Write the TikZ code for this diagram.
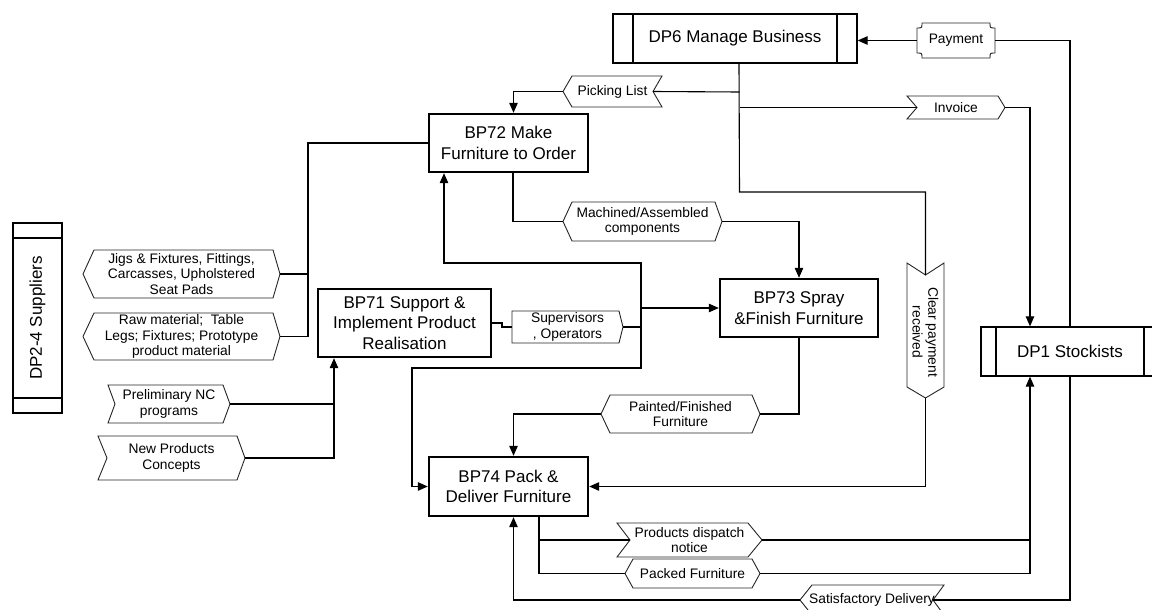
\documentclass[tikz,border=0pt]{standalone}
\usepackage{fontspec}
\setmainfont{Liberation Sans}
\usetikzlibrary{arrows.meta,calc}

\tikzset{
  conn/.style={line width=1.1pt, draw=black},
  arr/.style={-{Triangle[length=10pt,width=8.5pt]}},
  bpbox/.style={draw, fill=white, line width=2.4pt, inner sep=0pt, align=center,
    font=\fontsize{17}{20.5}\selectfont},
  dpbox/.style={draw, fill=white, line width=1.3pt, inner sep=0pt, align=center,
    font=\fontsize{17}{20.5}\selectfont},
  lbl/.style={line width=0.9pt, draw=black!85, fill=white},
  lbltext/.style={inner sep=0pt, align=center, font=\fontsize{13.8}{15.8}\selectfont},
}

% Flow label: name, left x, right x, top y, bottom y,
% left depth, right depth (positive = pointed out, negative = notched in), text
\newcommand\flowlabel[8]{%
  \pgfmathsetmacro\fLt{#2+max(#6,0)}%
  \pgfmathsetmacro\fLm{#2+max(-(#6),0)}%
  \pgfmathsetmacro\fRt{#3-max(#7,0)}%
  \pgfmathsetmacro\fRm{#3-max(-(#7),0)}%
  \pgfmathsetmacro\fYm{(#4+#5)/2}%
  \pgfmathsetmacro\fXm{(#2+#3)/2}%
  \draw[lbl] (\fLt,#4) -- (\fRt,#4) -- (\fRm,\fYm) -- (\fRt,#5) -- (\fLt,#5) -- (\fLm,\fYm) -- cycle;
  \node[lbltext] (#1) at (\fXm,\fYm) {#8};
  \coordinate (#1-w) at (\fLm,\fYm);
  \coordinate (#1-e) at (\fRm,\fYm);
}

\begin{document}
\begin{tikzpicture}[x=1pt,y=-1pt]
\useasboundingbox (0,0) rectangle (1152,610);
\fill[white] (0,0) rectangle (1152,610);
\clip (0,0) rectangle (1152,610);

% ---------- process boxes ----------
\node[dpbox, minimum width=244pt, minimum height=49pt] (dp6) at (735,38.5) {DP6 Manage Business};
\draw[line width=1.3pt] (633,14) -- (633,63) (837,14) -- (837,63);

\node[dpbox, minimum width=178pt, minimum height=49pt] (dp1) at (1070,351.5) {DP1 Stockists};
\draw[line width=1.3pt] (996,327) -- (996,376) (1144,327) -- (1144,376);

\node[dpbox, rotate=90, minimum width=190pt, minimum height=49pt] (dp24) at (37.5,318) {DP2-4 Suppliers};
\draw[line width=1.3pt] (13,238) -- (62,238) (13,398) -- (62,398);

\node[bpbox, minimum width=159pt, minimum height=58pt] (bp72) at (508.5,143) {BP72 Make\\Furniture to Order};
\node[bpbox, minimum width=173pt, minimum height=68pt] (bp71) at (404.5,323) {BP71 Support \&\\Implement Product\\Realisation};
\node[bpbox, minimum width=158pt, minimum height=58pt] (bp73) at (799,308) {BP73 Spray\\\&Finish Furniture};
\node[bpbox, minimum width=159pt, minimum height=59pt] (bp74) at (508.5,486.5) {BP74 Pack \&\\Deliver Furniture};

% ---------- flow labels ----------
\flowlabel{pick}{563}{662}{76}{107}{9}{-9}{Picking List}
\flowlabel{inv}{907}{1005}{96}{119}{-10}{7}{Invoice}
\flowlabel{mach}{563}{722}{202}{241}{9}{7}{Machined/Assembled\\components}
\flowlabel{paint}{601}{760}{395}{433}{9}{8}{Painted/Finished\\Furniture}
\flowlabel{jig}{83}{280}{250}{298}{11}{7}{Jigs \& Fixtures, Fittings,\\Carcasses, Upholstered\\Seat Pads}
\flowlabel{raw}{83}{280}{313}{360}{11}{7}{Raw material;\ \ Table\\Legs; Fixtures; Prototype\\product material}
\flowlabel{nc}{108}{230}{385}{423}{-7}{7}{Preliminary NC\\programs}
\flowlabel{np}{98}{245}{436}{480}{-9}{8}{New Products\\Concepts}
\flowlabel{sup}{512}{623}{311}{343}{0}{4}{Supervisors\\, Operators}
\flowlabel{disp}{617}{762}{523}{557}{-13}{14}{Products dispatch\\notice}
\flowlabel{pack}{625}{760}{559}{588}{8}{8}{Packed Furniture}
\flowlabel{sat}{800}{944}{585}{615}{12}{-11}{Satisfactory Delivery}

% Payment tag with concave corners
\draw[lbl] (922,23) -- (990,23) .. controls (990,28) .. (995,28) -- (995,53)
  .. controls (990,53) .. (990,58) -- (922,58) .. controls (922,53) .. (917,53)
  -- (917,28) .. controls (922,28) .. (922,23) -- cycle;
\node[lbltext] (pay) at (956,40.5) {Payment};
\coordinate (pay-w) at (917,40.5);
\coordinate (pay-e) at (995,40.5);

% Clear payment: downward signal
\draw[lbl] (907,263) -- (925.5,275) -- (944,263) -- (944,387) -- (925.5,398) -- (907,387) -- cycle;
\node[lbltext, rotate=-90] (cp) at (925.5,332) {Clear payment\\received};
\coordinate (cp-n) at (925.5,275);
\coordinate (cp-s) at (925.5,398);

% ---------- connectors ----------
% DP6 trunk towards clear payment
\draw[conn] ($(dp6.south)+(4,0)$) -- (739.5,192) -| (cp-n);
\draw[conn] (739.5,92) -- (pick-e);
\draw[conn,arr] (pick-w) -| ($(bp72.north)+(5,0)$);
\draw[conn] (739.5,107.5) -- (inv-w);
\draw[conn,arr] (inv-e) -| ($(dp1.north)+(-40,0)$);
% payment and delivery feedback through DP1
\draw[conn] (dp1.north) |- (pay-e);
\draw[conn,arr] (pay-w) -- (pay-w -| dp6.east);
\draw[conn] (dp1.south) |- (sat-e);
\draw[conn,arr] (sat-w) -| ($(bp74.south)+(5,0)$);
\draw[conn,arr] (cp-s) |- (bp74.east);
% BP72 -> BP73 -> BP74
\draw[conn] ($(bp72.south)+(4.5,0)$) |- (mach-w);
\draw[conn,arr] (mach-e) -| (bp73.north);
\draw[conn] (bp73.south) |- (paint-e);
\draw[conn,arr] (paint-w) -| ($(bp74.north)+(5,0)$);
% supplier inputs
\draw[conn] (jig-e) -- (308,274);
\draw[conn] (raw-e) -- (308,336.5) |- (bp72.west);
\draw[conn] (nc-e) -- (334,404);
\draw[conn,arr] (np-e) -| ($(bp71.south)+(-70.5,0)$);
% BP71 resources
\draw[conn] (bp71.east) -- (502,323) -- (502,327) -- (sup-w);
\draw[conn,arr] (sup-e) -- (641,327) -- (641,263) -| ($(bp72.south)+(-64.5,0)$);
\draw[conn,arr] (641,308) -- (bp73.west);
\draw[conn,arr] (641,327) -- (641,368) -- (412,368) |- (bp74.west);
% BP74 outputs to DP1
\draw[conn] ($(bp74.south)+(30.5,0)$) |- (disp-w);
\draw[conn,arr] (disp-e) -| ($(dp1.south)+(-40,0)$);
\draw[conn] (539,540) |- (pack-w);
\draw[conn] (pack-e) -| (1030,540);
\end{tikzpicture}
\end{document}
